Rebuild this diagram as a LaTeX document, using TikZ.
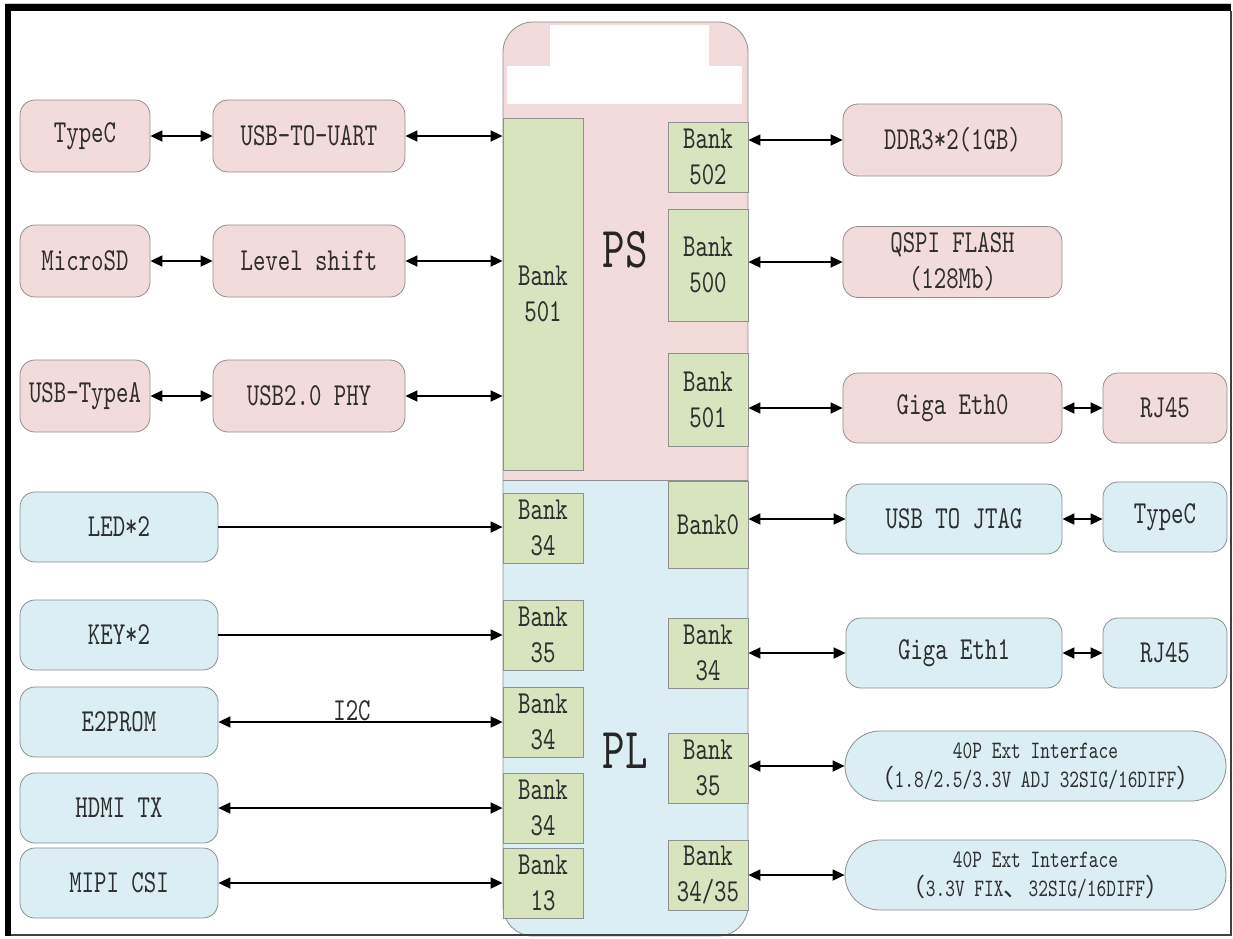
\documentclass[tikz,border=0pt]{standalone}
\usepackage{fontspec}
\usetikzlibrary{arrows.meta}
\newfontfamily\monofnt[FakeStretch=0.74]{lmmono10-regular.otf}
\newfontfamily\cjk{Noto Sans CJK SC}
\definecolor{pinkf}{HTML}{F2DCDB}
\definecolor{bluef}{HTML}{DAEEF3}
\definecolor{greenf}{HTML}{D7E4BD}
\definecolor{edge}{HTML}{8F8F8F}
\definecolor{txt}{HTML}{2E2E2E}
\begin{document}
\begin{tikzpicture}[x=1pt,y=-1pt,
  every node/.style={text=txt, font=\monofnt\fontsize{32}{36}\selectfont, inner sep=0pt},
  extbox/.style={draw=edge, line width=0.8pt, rounded corners=15pt, minimum height=70pt, align=center},
  pinkbox/.style={extbox, fill=pinkf},
  bluebox/.style={extbox, fill=bluef},
  widebox/.style={bluebox, rounded corners=35pt, minimum width=381pt, font=\monofnt\fontsize{25}{29}\selectfont},
  bankbox/.style={draw=edge, line width=0.8pt, fill=greenf, minimum width=80pt, align=center},
  bigtext/.style={font=\monofnt\fontsize{58}{60}\selectfont, text=black!85},
  conn/.style={line width=1.8pt, black, {Triangle[length=12pt,width=11pt]}-{Triangle[length=12pt,width=11pt]}},
  oneway/.style={line width=1.8pt, black, -{Triangle[length=12pt,width=11pt]}},
]
\useasboundingbox (0,0) rectangle (1233,938);
\fill[white] (0,0) rectangle (1233,938);

% chip body
\begin{scope}
\clip[rounded corners=30pt] (503,22) rectangle (748,936);
\fill[pinkf] (503,22) rectangle (748,480);
\fill[bluef] (503,480) rectangle (748,936);
\end{scope}
\draw[edge, line width=0.8pt, rounded corners=30pt] (503,22) rectangle (748,936);
\draw[edge, line width=0.8pt] (503,480) -- (748,480);
\fill[white] (550,25) rectangle (709,66);
\fill[white] (507,66) rectangle (742,104);

\node[bigtext] (ps) at (625,250) {PS};
\node[bigtext] (pl) at (625,751) {PL};

% banks left
\node[bankbox, minimum height=352pt] (b501L) at (543,294) {Bank\\501};
\node[bankbox, minimum height=70pt] (b34a) at (543,528) {Bank\\34};
\node[bankbox, minimum height=70pt] (b35a) at (543,635) {Bank\\35};
\node[bankbox, minimum height=70pt] (b34b) at (543,722) {Bank\\34};
\node[bankbox, minimum height=70pt] (b34c) at (543,808) {Bank\\34};
\node[bankbox, minimum height=70pt] (b13) at (543,883) {Bank\\13};

% banks right
\node[bankbox, minimum height=70pt] (b502) at (708,157) {Bank\\502};
\node[bankbox, minimum height=112pt] (b500) at (708,265) {Bank\\500};
\node[bankbox, minimum height=93pt] (b501R) at (708,400) {Bank\\501};
\node[bankbox, minimum height=87pt] (b0) at (708,525) {Bank0};
\node[bankbox, minimum height=70pt] (b34R) at (708,653) {Bank\\34};
\node[bankbox, minimum height=70pt] (b35R) at (708,768) {Bank\\35};
\node[bankbox, minimum height=70pt] (b3435) at (708,875) {Bank\\34/35};

% left PS boxes
\node[pinkbox, minimum width=130pt, minimum height=72pt] (typecA) at (85,136) {TypeC};
\node[pinkbox, minimum width=192pt, minimum height=72pt] (uart) at (309,136) {USB-TO-UART};
\node[pinkbox, minimum width=130pt, minimum height=72pt] (microsd) at (85,261) {MicroSD};
\node[pinkbox, minimum width=192pt, minimum height=72pt] (level) at (309,261) {Level shift};
\node[pinkbox, minimum width=130pt, minimum height=72pt] (usba) at (85,396) {USB-TypeA};
\node[pinkbox, minimum width=192pt, minimum height=72pt] (phy) at (309,396) {USB2.0 PHY};

% left PL boxes
\node[bluebox, minimum width=198pt] (led) at (119,527) {LED*2};
\node[bluebox, minimum width=198pt] (key) at (119,635) {KEY*2};
\node[bluebox, minimum width=198pt] (e2p) at (119,722) {E2PROM};
\node[bluebox, minimum width=198pt] (hdmi) at (119,808) {HDMI TX};
\node[bluebox, minimum width=198pt] (mipi) at (119,883) {MIPI CSI};

% right boxes
\node[pinkbox, minimum width=219pt, minimum height=72pt] (ddr) at (952.5,140) {DDR3*2(1GB)};
\node[pinkbox, minimum width=219pt, minimum height=71pt] (qspi) at (952.5,262) {QSPI FLASH\\(128Mb)};
\node[pinkbox, minimum width=219pt] (eth0) at (952.5,408) {Giga Eth0};
\node[pinkbox, minimum width=124pt] (rj45a) at (1165,408) {RJ45};
\node[bluebox, minimum width=216pt] (jtag) at (954,519) {USB TO JTAG};
\node[bluebox, minimum width=124pt] (typecB) at (1165,517) {TypeC};
\node[bluebox, minimum width=216pt] (eth1) at (954,653) {Giga Eth1};
\node[bluebox, minimum width=124pt] (rj45b) at (1165,653) {RJ45};
\node[widebox] (ext1) at (1035.5,766) {40P Ext Interface\\{\cjk （}1.8/2.5/3.3V ADJ 32SIG/16DIFF{\cjk ）}};
\node[widebox] (ext2) at (1035.5,875) {40P Ext Interface\\{\cjk （}3.3V FIX{\cjk 、}32SIG/16DIFF{\cjk ）}};

% connectors left PS
\draw[conn] (typecA.east) -- (uart.west);
\draw[conn] (uart.east) -- (uart.east -| b501L.west);
\draw[conn] (microsd.east) -- (level.west);
\draw[conn] (level.east) -- (level.east -| b501L.west);
\draw[conn] (usba.east) -- (phy.west);
\draw[conn] (phy.east) -- (phy.east -| b501L.west);

% connectors left PL
\draw[oneway] (led.east) -- (led.east -| b34a.west);
\draw[oneway] (key.east) -- (key.east -| b35a.west);
\draw[conn] (e2p.east) -- node[pos=0.47, anchor=base, yshift=2pt] (i2c) {I2C} (e2p.east -| b34b.west);
\draw[conn] (hdmi.east) -- (hdmi.east -| b34c.west);
\draw[conn] (mipi.east) -- (mipi.east -| b13.west);

% connectors right
\draw[conn] (b502.east |- ddr.west) -- (ddr.west);
\draw[conn] (b500.east |- qspi.west) -- (qspi.west);
\draw[conn] (b501R.east |- eth0.west) -- (eth0.west);
\draw[conn] (eth0.east) -- (rj45a.west);
\draw[conn] (b0.east |- jtag.west) -- (jtag.west);
\draw[conn] (jtag.east) -- (jtag.east -| typecB.west);
\draw[conn] (b34R.east |- eth1.west) -- (eth1.west);
\draw[conn] (eth1.east) -- (rj45b.west);
\draw[conn] (b35R.east |- ext1.west) -- (ext1.west);
\draw[conn] (b3435.east |- ext2.west) -- (ext2.west);

% frame
\fill[black!20] (5,2.5) rectangle (1231,4);
\fill[black] (5,4) rectangle (1231,11);
\fill[black] (5,4) rectangle (11,936);
\draw[black!75, line width=1.5pt] (1231,11) -- (1231,935) -- (11,935);
\end{tikzpicture}
\end{document}
